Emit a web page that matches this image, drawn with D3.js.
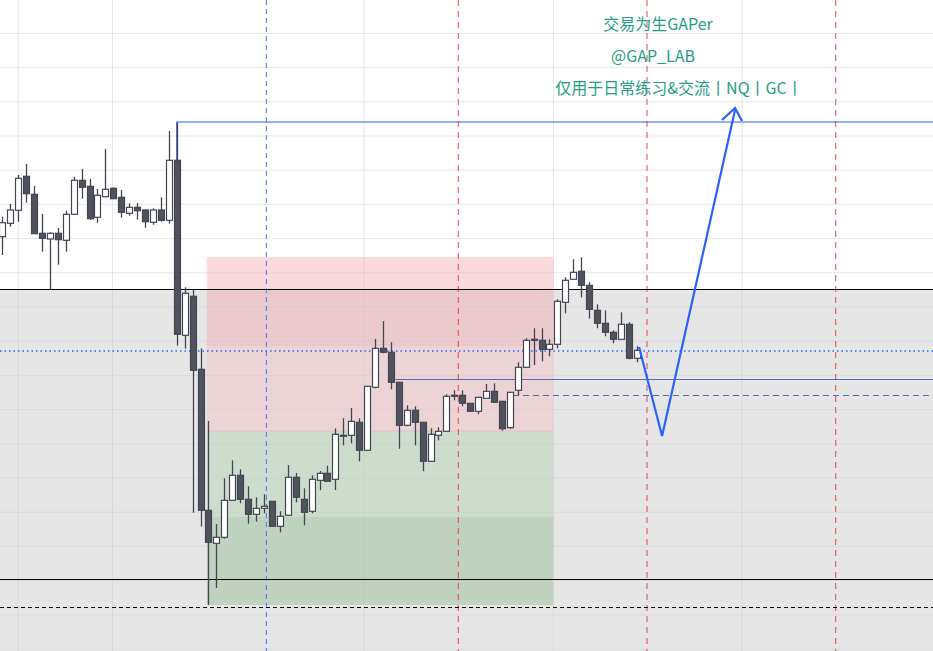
<!DOCTYPE html>
<html><head><meta charset="utf-8">
<script src="https://cdn.jsdelivr.net/npm/d3@7"></script>
<style>body{margin:0;background:#fff}svg{display:block}</style>
</head><body><svg id="c" width="933" height="651"></svg>
<script>
// price units (arbitrary chart units)
const opens = [
463.3,476.7,489.7,523.7,505.7,466.7,461,466.7,459.7,485.7,
519.7,513.7,482.7,503.3,511.7,502.7,486.7,492.7,490,477.7,
490,479.7,539.7,364.7,403.7,330.7,189.7,156.7,162.7,199.7,
224.7,200.7,185.7,191.7,198.7,173.7,184.7,222.7,200.7,188.7,
219.7,226.7,220.7,264.7,264.7,277.7,249.7,312.7,351.7,347.7,
317.7,274.7,289.7,277.7,238.7,264.7,268.7,304.7,304.7,296.7,
288.7,301.7,308.7,298.7,272.3,309.7,332.7,360.7,359.7,350.7,
355.7,397.7,420.7,428.7,414.7,389.7,376.7,367.7,360.7,375.7,
341.7];
const highs = [
483.3,496,525,536,514,486,467.7,472,489.3,523,
531,521,511,551,512.7,510,496.7,497,490.7,491.7,
502.7,569,577.3,412.7,410,351.7,279,176,221.7,239.7,
230.7,213.7,202.7,205.7,198.7,188.7,235,227,211.7,224.7,
229,234.3,271.7,281.7,292,281.7,313.7,361,379,357.7,
317.7,294.7,293.7,277.7,271.7,272.7,305.7,309.7,309.7,296.7,
302.7,316,316.7,298.7,307.7,337.7,361.7,371.7,371.7,360.7,
400.7,422.7,440.7,442.7,417.7,395.7,389.7,369.7,387.7,377.7,
353.7];
const lows = [
445,473.3,478.3,497.3,466.3,448.3,410.7,435.3,448.3,485.7,
501.3,480.3,477.3,502.7,501.3,482.3,484.3,480.3,472.3,475.3,
478.3,476.3,354.3,351.3,187.3,173.3,95,112,161.3,199.7,
196.7,176.3,178.3,186.7,173.7,167.7,184.7,197.7,174.7,186.7,
209.7,218.7,210,254.7,256.7,238.7,249.7,311.7,346.7,310.7,
251.3,273.7,254.7,228.7,238.7,259.7,268.7,299.7,293.7,288.7,
285.7,301.7,297.7,269.3,271.3,304.7,332.7,335,338.7,343.7,
351.7,386.7,420.7,402.7,381.3,371.7,363.7,356.7,360.7,340.7,
337.7];
const closes = [
477.3,490,521.7,506.3,466.3,461.7,466.7,460.3,485.7,519.7,
512.7,481.3,504.7,510.7,501.3,487.7,492.7,489.3,478.3,490,
479.7,539.7,365.7,406.7,329.7,189.7,157.7,162.7,199.7,224.7,
200.7,185.7,191.7,193.7,173.7,183.7,222.7,202.7,187.7,220.7,
226.7,218.7,265.7,264.7,278.7,249.7,313.7,351.7,347.7,317.7,
274.7,289.7,277.7,238.7,265.7,268.7,303.7,304.7,296.7,288.7,
302.7,308.7,297.7,271.3,307.7,332.7,359.7,359.7,350.7,355.7,
398.7,419.7,427.7,414.7,390.7,376.7,367.7,360.7,375.7,341.7,
349.7];
const textLines = ["交易为生GAPer","@GAP_LAB","仅用于日常练习&交流丨NQ丨GC丨"];
const textX = [658,653,679];
const levels = {top:578, support:411, mid:349, lowSolid:121, lowDash:93, seg1:321, seg2:305};
const projection = [[80.3,353],[83.2,264],[92.4,590]]; // [candle index, price]

const W=933,H=651;
const svg=d3.select("#c");
const x=d3.scaleLinear().domain([0,80]).range([2.3,636.7]);
const y=d3.scaleLinear().domain([700,49]).range([0,651]);
const n=opens.length;

svg.append("rect").attr("x",0).attr("y",y(levels.support)).attr("width",W).attr("height",H-y(levels.support)).attr("fill","#e6e6e6");
const hg=d3.range(-1,19).map(k=>700-(33.4+34.2*k));
svg.selectAll(".hg").data(hg).enter().append("line").attr("x1",0).attr("x2",W).attr("y1",d=>y(d)).attr("y2",d=>y(d)).attr("stroke","#d0d0d8").attr("stroke-opacity",0.5);
const vg=[2,13.9,45.6,69.5,93.3];
svg.selectAll(".vg").data(vg).enter().append("line").attr("x1",d=>x(d)).attr("x2",d=>x(d)).attr("y1",0).attr("y2",H).attr("stroke","#d0d0d8").attr("stroke-opacity",0.5);

const bx0=x(25.8),bx1=x(69.5);
function box(p1,p2,c,o){svg.append("rect").attr("x",bx0).attr("width",bx1-bx0).attr("y",y(p1)).attr("height",y(p2)-y(p1)).attr("fill",c).attr("fill-opacity",o);}
box(443,269,"#f7a8b2",0.3);
box(443,355,"#f28a98",0.12);
box(269,95,"#a8cca8",0.38);
box(183,95,"#80a880",0.18);
svg.append("line").attr("x1",bx0).attr("x2",bx1).attr("y1",y(355)).attr("y2",y(355)).attr("stroke","#f0b0b8").attr("stroke-opacity",0.6);
svg.append("line").attr("x1",bx0).attr("x2",bx1).attr("y1",y(269)).attr("y2",y(269)).attr("stroke","#f0b0b8").attr("stroke-opacity",0.6);

svg.append("line").attr("x1",x(33.3)).attr("x2",x(33.3)).attr("y1",0).attr("y2",H).attr("stroke","#3b7be8").attr("stroke-dasharray","5,4");
[57.5,81.3,105.1].forEach(i=>svg.append("line").attr("x1",x(i)).attr("x2",x(i)).attr("y1",0).attr("y2",H).attr("stroke","#e8404f").attr("stroke-dasharray","6,5"));

svg.append("line").attr("x1",0).attr("x2",W).attr("y1",y(levels.support)+0.5).attr("y2",y(levels.support)+0.5).attr("stroke","#000");
svg.append("line").attr("x1",0).attr("x2",W).attr("y1",y(levels.lowSolid)+0.5).attr("y2",y(levels.lowSolid)+0.5).attr("stroke","#000");
svg.append("line").attr("x1",0).attr("x2",W).attr("y1",y(levels.lowDash)+0.5).attr("y2",y(levels.lowDash)+0.5).attr("stroke","#000").attr("stroke-dasharray","4,3");
svg.append("line").attr("x1",0).attr("x2",W).attr("y1",y(levels.mid)).attr("y2",y(levels.mid)).attr("stroke","#2962ff").attr("stroke-width",1.3).attr("stroke-dasharray","1.5,3");
svg.append("line").attr("x1",x(49.6)).attr("x2",W).attr("y1",y(levels.seg1)+0.5).attr("y2",y(levels.seg1)+0.5).attr("stroke","#3050a0").attr("stroke-opacity",0.8);
svg.append("line").attr("x1",x(64.4)).attr("x2",W).attr("y1",y(levels.seg2)+0.5).attr("y2",y(levels.seg2)+0.5).attr("stroke","#3050a0").attr("stroke-opacity",0.8).attr("stroke-dasharray","6,4");
svg.append("path").attr("d",`M${x(22)},${y(540)}V${y(levels.top)}H${W}`).attr("fill","none").attr("stroke","#2962ff").attr("stroke-width",1.2);

const g=svg.append("g");
for(let i=0;i<n;i++){
  const up=closes[i]>=opens[i];
  const cx=Math.round(x(i))+0.5;
  g.append("line").attr("x1",cx).attr("x2",cx).attr("y1",y(highs[i])).attr("y2",y(lows[i])).attr("stroke","#434651").attr("stroke-width",1.3);
  const t=y(Math.max(opens[i],closes[i])),b=y(Math.min(opens[i],closes[i]));
  g.append("rect").attr("x",cx-3).attr("width",6).attr("y",t).attr("height",Math.max(1,b-t)).attr("fill",up?"#fff":"#50535e").attr("stroke","#434651").attr("stroke-width",1.2);
}

const line=d3.line().x(d=>x(d[0])).y(d=>y(d[1]));
svg.append("path").attr("d",line(projection)).attr("fill","none").attr("stroke","#2962ff").attr("stroke-width",2.2);
const tip=projection[2];
svg.append("path").attr("d",`M${x(tip[0])-13},${y(tip[1])+10}L${x(tip[0])},${y(tip[1])-2}L${x(tip[0])+7},${y(tip[1])+11}`).attr("fill","none").attr("stroke","#2962ff").attr("stroke-width",2.2);

svg.selectAll(".t").data(textLines).enter().append("text").attr("x",(d,i)=>textX[i]).attr("y",(d,i)=>30+i*32).attr("text-anchor","middle")
 .attr("font-family","Noto Sans CJK SC, Noto Sans, sans-serif").attr("font-size",16).attr("fill","#1f9e85").text(d=>d);
</script></body></html>
